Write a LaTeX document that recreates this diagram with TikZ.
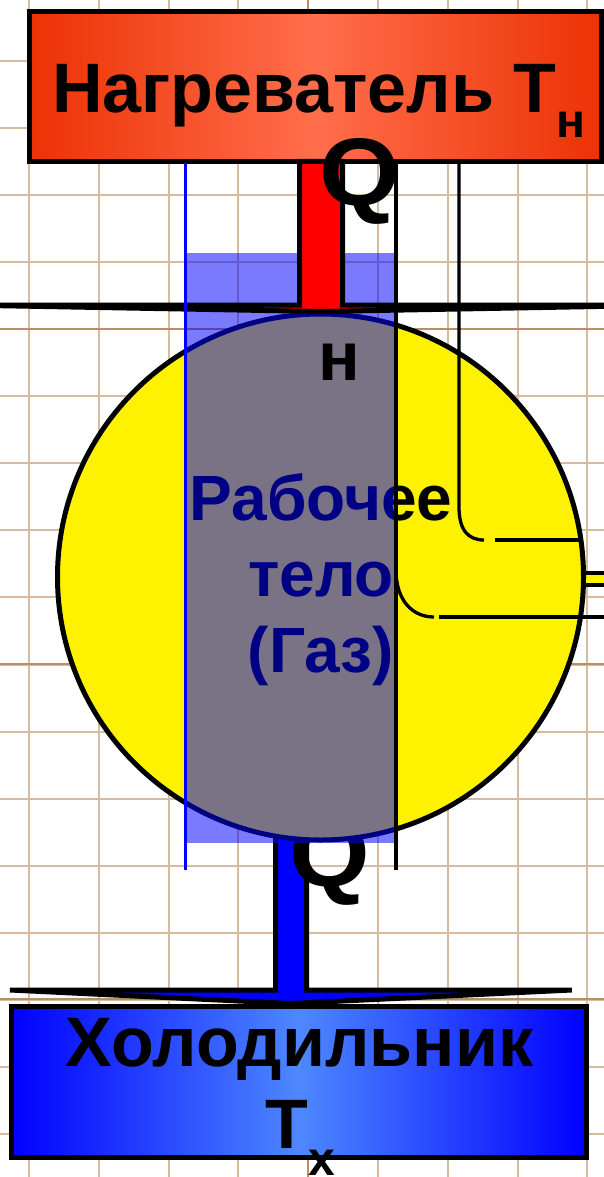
\documentclass[tikz,border=0pt]{standalone}
\usepackage{fontspec}
\setmainfont{Liberation Sans}
\usetikzlibrary{calc, positioning}
\definecolor{gridtan}{RGB}{214,188,158}
\definecolor{gridbrown}{RGB}{188,142,100}
\definecolor{hotinner}{RGB}{255,110,76}
\definecolor{hotouter}{RGB}{236,50,4}
\definecolor{coldinner}{RGB}{78,136,255}
\definecolor{coldouter}{RGB}{0,0,255}
\pgfdeclarehorizontalshading{hotshade}{100bp}{color(0bp)=(hotouter); color(25bp)=(hotouter);
  color(50bp)=(hotinner); color(75bp)=(hotouter); color(100bp)=(hotouter)}
\pgfdeclarehorizontalshading{coldshade}{100bp}{color(0bp)=(coldouter); color(25bp)=(coldouter);
  color(50bp)=(coldinner); color(75bp)=(coldouter); color(100bp)=(coldouter)}

\begin{document}
\begin{tikzpicture}[
    x=1pt, y=-1pt,
    gridline/.style={gridtan, line width=2pt},
    gridmajor/.style={gridbrown, line width=2pt},
    reservoir/.style={draw, rectangle, line width=5pt, inner sep=0pt},
    bigtxt/.style={font=\bfseries\fontsize{70}{82}\selectfont, inner sep=0pt},
    subtxt/.style={font=\bfseries\fontsize{48}{48}\selectfont, inner sep=0pt},
    qtxt/.style={font=\bfseries\fontsize{96}{96}\selectfont, inner sep=0pt},
    qarrow/.style={draw, line width=5pt},
    thinline/.style={line width=3.3pt}
  ]
  \useasboundingbox (0,0) rectangle (604,1177);
  \clip (0,0) rectangle (604,1177);

  % Grid paper
  \foreach \k in {0,...,8}
    \draw[gridline] ({29+69.8*\k},0) -- ({29+69.8*\k},1177);
  \foreach \k in {0,...,17}
    \draw[gridline] (0,{-6.5+67.1*\k}) -- (604,{-6.5+67.1*\k});
  \draw[gridmajor] (308.2,0) -- (308.2,1177);
  \foreach \gy in {329,664,999}
    \draw[gridmajor] (0,\gy) -- (604,\gy);

  % Heater and cooler
  \node[reservoir, minimum width=572pt, minimum height=150pt,
        shading=hotshade] (heater) at (315.5,86.5) {};
  \node[reservoir, minimum width=574.5pt, minimum height=151pt,
        shading=coldshade] (cooler) at (298.75,1081.5) {};

  % Q_x arrow (behind the body)
  \coordinate (coldtip) at ([xshift=-8pt]cooler.north);
  \draw[qarrow, fill=blue] ($(coldtip)+(-15.25,-185)$) -- ($(coldtip)+(-15.25,-13.5)$)
        -- ++(-265.5,0) -- (coldtip) -- ($(coldtip)+(281,-13.5)$)
        -- ($(coldtip)+(15.75,-13.5)$) -- ($(coldtip)+(15.75,-185)$) -- cycle;
  \node[qtxt, anchor=base west] (qcold) at (289,886) {\scalebox{1.08}[1]{Q}};

  % work arrow stub
  \draw[line width=4pt, fill=yellow] (570,573) rectangle (620,584.5);

  % Working body
  \node[circle, draw, line width=5pt, fill=yellow, minimum size=526pt,
        inner sep=0pt] (body) at (320.5,577) {};
  \node[font=\bfseries\fontsize{64}{76}\selectfont, align=center,
        inner sep=0pt] (bodyname) at (321,580) {Рабочее\\тело\\(Газ)};
  \fill[blue, opacity=0.52] (185,253) rectangle (395,843);

  % Q_n arrow
  \coordinate (hotstart) at (heater.south -| body.north);
  \draw[qarrow, fill=red] ($(hotstart)+(-21,-2.5)$) -- ($(hotstart)+(-21,141)$)
        -- ++(-339,0) -- (body.north) -- ($(hotstart)+(360,141)$)
        -- ($(hotstart)+(22,141)$) -- ($(hotstart)+(22,-2.5)$) -- cycle;

  % Lines
  \draw[blue, line width=3pt] (185,163) -- (185,870);
  \draw[thinline] (396,163) -- (396,870);
  \draw[thinline] (459,163) -- (459,507) .. controls (459,530) and (468,540) .. (484,540);
  \draw[thinline] (495,540) -- (582,540);
  \draw[thinline] (396,570) .. controls (396,600) and (412,617) .. (434,617);
  \draw[thinline] (439,617) -- (604,617);

  % Labels
  \node[bigtxt, anchor=base west] (heatername) at (52,113) {Нагреватель Т};
  \node[subtxt, anchor=base west] (heatersub) at ([yshift=-25pt]heatername.base east) {н};
  \node[bigtxt, anchor=base] (coolername) at (299.5,1066) {Холодильник};
  \node[bigtxt, anchor=base west] (coolerT) at ([xshift=-34.5pt,yshift=-82pt]coolername.base) {Т};
  \node[subtxt, anchor=base west] (coolersub) at ([yshift=-27pt]coolerT.base east) {х};
  \node[qtxt, anchor=base west] (qhot) at (319,205) {\scalebox{1.08}[1]{Q}};
  \node[font=\bfseries\fontsize{69}{69}\selectfont, anchor=base west,
        inner sep=0pt] (qhotsub) at (318,380) {н};
\end{tikzpicture}
\end{document}
